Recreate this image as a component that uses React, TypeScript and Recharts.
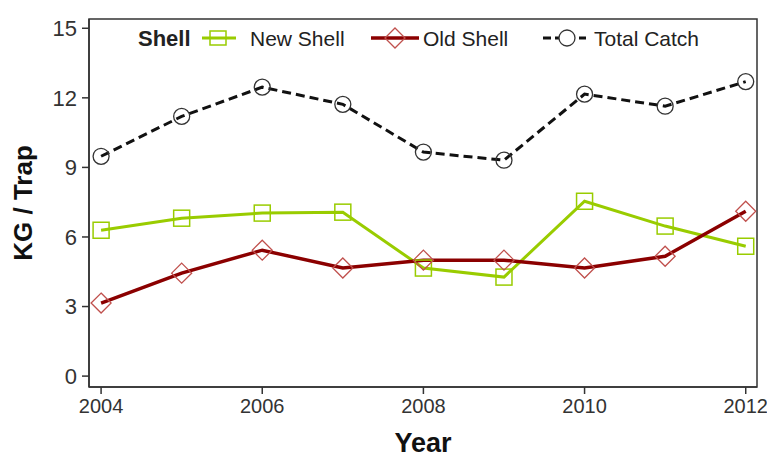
import { LineChart, Line, XAxis, YAxis, Legend, ReferenceArea, Label } from "recharts"

const years = [2004, 2005, 2006, 2007, 2008, 2009, 2010, 2011, 2012]
const newShell = [6.29, 6.81, 7.03, 7.07, 4.66, 4.27, 7.54, 6.47, 5.6]
const oldShell = [3.15, 4.44, 5.43, 4.66, 5.0, 5.0, 4.66, 5.17, 7.11]
const totalCatch = [9.48, 11.2, 12.46, 11.72, 9.66, 9.31, 12.16, 11.64, 12.7]
const xTicks = [2004, 2006, 2008, 2010, 2012]
const yTicks = [0, 3, 6, 9, 12, 15]

const data = years.map((year, i) => ({
  year,
  newShell: newShell[i],
  oldShell: oldShell[i],
  totalCatch: totalCatch[i],
}))

const FONT = "'Liberation Sans', Arial, sans-serif"
const GREEN = "#99cc00"
const DARKRED = "#8b0000"
const DIAMOND = "#c0504d"

const SquareDot = (props: any) => {
  const { cx, cy } = props
  if (cx == null || cy == null) return null
  return <rect x={cx - 8} y={cy - 8} width={16} height={16} fill="none" stroke={GREEN} strokeWidth={1.5} />
}

const DiamondDot = (props: any) => {
  const { cx, cy } = props
  if (cx == null || cy == null) return null
  return (
    <path
      d={`M${cx},${cy - 10}L${cx + 10},${cy}L${cx},${cy + 10}L${cx - 10},${cy}Z`}
      fill="none"
      stroke={DIAMOND}
      strokeWidth={1.3}
    />
  )
}

const CircleDot = (props: any) => {
  const { cx, cy } = props
  if (cx == null || cy == null) return null
  return <circle cx={cx} cy={cy} r={8} fill="none" stroke="#333" strokeWidth={1.3} />
}

// legend drawn by hand: SAS-style "Shell" title followed by the three entries
const renderLegend = () => {
  const text = { fontFamily: FONT, fontSize: 21, fill: "#222" }
  return (
    <svg width={600} height={34} style={{ display: "block" }}>
      <text x={8} y={25} style={{ ...text, fontWeight: "bold", fontSize: 22 }}>Shell</text>
      <line x1={72} x2={106} y1={17} y2={17} stroke={GREEN} strokeWidth={3} />
      <rect x={80} y={10} width={16} height={14} fill="none" stroke={GREEN} strokeWidth={1.5} />
      <text x={120} y={25} style={text}>New Shell</text>
      <line x1={241} x2={289} y1={17} y2={17} stroke={DARKRED} strokeWidth={3.5} />
      <path d="M265,7L275,17L265,27L255,17Z" fill="none" stroke={DIAMOND} strokeWidth={1.3} />
      <text x={293} y={25} style={text}>Old Shell</text>
      <line x1={413} x2={456} y1={17} y2={17} stroke="#111" strokeWidth={3} strokeDasharray="8 4" />
      <circle cx={437} cy={17} r={8} fill="#fff" stroke="#333" strokeWidth={1.3} />
      <text x={464} y={25} style={text}>Total Catch</text>
    </svg>
  )
}

export default function App() {
  return (
    <div style={{ position: "absolute", left: 0, top: 0, background: "#fff" }}>
      <LineChart width={767} height={462} data={data} margin={{ top: 19, right: 10, left: 0, bottom: 0 }}>
        <XAxis
          dataKey="year"
          type="number"
          domain={[2003.85, 2012.14]}
          ticks={xTicks}
          allowDataOverflow
          height={75}
          axisLine={{ stroke: "#333", strokeWidth: 1.5 }}
          tickLine={{ stroke: "#333", strokeWidth: 1.5 }}
          tickSize={7}
          tickMargin={5}
          tick={{ fontFamily: FONT, fontSize: 20, fill: "#333" }}
        >
          <Label value="Year" position="insideBottom" offset={10} style={{ fontFamily: FONT, fontSize: 27, fontWeight: "bold", fill: "#111" }} />
        </XAxis>
        <YAxis
          type="number"
          domain={[-0.47, 15.4]}
          ticks={yTicks}
          allowDataOverflow
          width={89}
          axisLine={{ stroke: "#333", strokeWidth: 1.5 }}
          tickLine={{ stroke: "#333", strokeWidth: 1.5 }}
          tickSize={7}
          tickMargin={5}
          tick={{ fontFamily: FONT, fontSize: 22, fill: "#333" }}
        >
          <Label
            value="KG / Trap"
            angle={-90}
            position="insideLeft"
            offset={23}
            style={{ fontFamily: FONT, fontSize: 26, fontWeight: "bold", fill: "#111", textAnchor: "middle" }}
          />
        </YAxis>
        <ReferenceArea x1={2003.85} x2={2012.14} y1={-0.47} y2={15.4} fill="none" stroke="#333" strokeWidth={1.5} ifOverflow="visible" />
        <Legend
          content={renderLegend}
          layout="horizontal"
          verticalAlign="middle"
          align="center"
          wrapperStyle={{ position: "absolute", top: 21, left: 130, width: 600, height: 34 }}
        />
        <Line dataKey="newShell" name="New Shell" stroke={GREEN} strokeWidth={3} dot={<SquareDot />} isAnimationActive={false} />
        <Line dataKey="oldShell" name="Old Shell" stroke={DARKRED} strokeWidth={3.5} dot={<DiamondDot />} isAnimationActive={false} />
        <Line dataKey="totalCatch" name="Total Catch" stroke="#111" strokeWidth={3} strokeDasharray="9 5" dot={<CircleDot />} isAnimationActive={false} />
      </LineChart>
    </div>
  )
}
